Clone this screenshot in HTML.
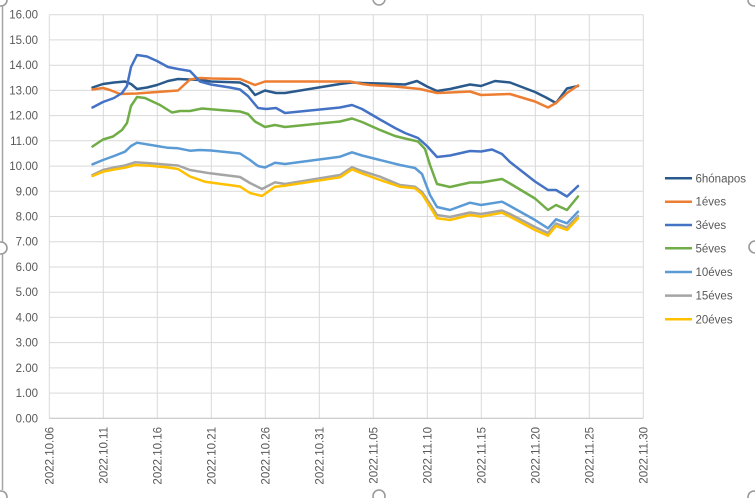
<!DOCTYPE html>
<html><head><meta charset="utf-8"><style>
html,body{margin:0;padding:0;background:#fff;}
svg{display:block;}
text{font-family:"Liberation Sans",Arial,sans-serif;font-size:11.5px;fill:#595959;}
</style></head><body>
<svg width="755" height="498" viewBox="0 0 755 498" xmlns="http://www.w3.org/2000/svg">
<rect width="755" height="498" fill="#fff"/>
<!-- border -->
<line x1="2.5" y1="6" x2="2.5" y2="490" stroke="#a6a6a6" stroke-width="1.5"/>
<!-- horizontal grid -->
<g stroke="#d9d9d9" stroke-width="1">
<line x1="49.3" x2="643.3" y1="393.1" y2="393.1"/>
<line x1="49.3" x2="643.3" y1="367.9" y2="367.9"/>
<line x1="49.3" x2="643.3" y1="342.6" y2="342.6"/>
<line x1="49.3" x2="643.3" y1="317.4" y2="317.4"/>
<line x1="49.3" x2="643.3" y1="292.2" y2="292.2"/>
<line x1="49.3" x2="643.3" y1="267.0" y2="267.0"/>
<line x1="49.3" x2="643.3" y1="241.7" y2="241.7"/>
<line x1="49.3" x2="643.3" y1="216.5" y2="216.5"/>
<line x1="49.3" x2="643.3" y1="191.3" y2="191.3"/>
<line x1="49.3" x2="643.3" y1="166.1" y2="166.1"/>
<line x1="49.3" x2="643.3" y1="140.8" y2="140.8"/>
<line x1="49.3" x2="643.3" y1="115.6" y2="115.6"/>
<line x1="49.3" x2="643.3" y1="90.4" y2="90.4"/>
<line x1="49.3" x2="643.3" y1="65.2" y2="65.2"/>
<line x1="49.3" x2="643.3" y1="39.9" y2="39.9"/>
<line x1="49.3" x2="643.3" y1="14.7" y2="14.7"/>
<line x1="49.3" x2="49.3" y1="14.7" y2="418.3"/>
<line x1="103.3" x2="103.3" y1="14.7" y2="418.3"/>
<line x1="157.3" x2="157.3" y1="14.7" y2="418.3"/>
<line x1="211.3" x2="211.3" y1="14.7" y2="418.3"/>
<line x1="265.3" x2="265.3" y1="14.7" y2="418.3"/>
<line x1="319.3" x2="319.3" y1="14.7" y2="418.3"/>
<line x1="373.3" x2="373.3" y1="14.7" y2="418.3"/>
<line x1="427.3" x2="427.3" y1="14.7" y2="418.3"/>
<line x1="481.3" x2="481.3" y1="14.7" y2="418.3"/>
<line x1="535.3" x2="535.3" y1="14.7" y2="418.3"/>
<line x1="589.3" x2="589.3" y1="14.7" y2="418.3"/>
<line x1="643.3" x2="643.3" y1="14.7" y2="418.3"/>
</g>
<line x1="49.3" x2="643.3" y1="418.3" y2="418.3" stroke="#bfbfbf" stroke-width="1"/>
<!-- y labels -->
<g text-anchor="end">
<text x="38" y="422.3">0.00</text>
<text x="38" y="397.1">1.00</text>
<text x="38" y="371.9">2.00</text>
<text x="38" y="346.6">3.00</text>
<text x="38" y="321.4">4.00</text>
<text x="38" y="296.2">5.00</text>
<text x="38" y="271.0">6.00</text>
<text x="38" y="245.7">7.00</text>
<text x="38" y="220.5">8.00</text>
<text x="38" y="195.3">9.00</text>
<text x="38" y="170.1">10.00</text>
<text x="38" y="144.8">11.00</text>
<text x="38" y="119.6">12.00</text>
<text x="38" y="94.4">13.00</text>
<text x="38" y="69.2">14.00</text>
<text x="38" y="43.9">15.00</text>
<text x="38" y="18.7">16.00</text>
</g>
<!-- x labels -->
<g text-anchor="end">
<text transform="translate(53.5,427) rotate(-90)">2022.10.06</text>
<text transform="translate(107.5,427) rotate(-90)">2022.10.11</text>
<text transform="translate(161.5,427) rotate(-90)">2022.10.16</text>
<text transform="translate(215.5,427) rotate(-90)">2022.10.21</text>
<text transform="translate(269.5,427) rotate(-90)">2022.10.26</text>
<text transform="translate(323.5,427) rotate(-90)">2022.10.31</text>
<text transform="translate(377.5,427) rotate(-90)">2022.11.05</text>
<text transform="translate(431.5,427) rotate(-90)">2022.11.10</text>
<text transform="translate(485.5,427) rotate(-90)">2022.11.15</text>
<text transform="translate(539.5,427) rotate(-90)">2022.11.20</text>
<text transform="translate(593.5,427) rotate(-90)">2022.11.25</text>
<text transform="translate(647.5,427) rotate(-90)">2022.11.30</text>
</g>
<!-- series -->
<g fill="none" stroke-width="2.5" stroke-linejoin="round" stroke-linecap="round">
<polyline stroke="#2a5a8c" points="92.5,87.5 103,84 114,82.5 125,81.5 131,84 137,89 147,87.5 157,85 168,81 178,79 190,79.5 200,80 211,81.5 240,82.5 248,86.5 255,95 265,90.5 276,93 285,93 340,84 352,82.5 362,83 380,83.5 405,84.5 417,81 427,86.5 437,91 450,89 470,84.5 481,86 495,81 510,82.5 535,92 546,97.5 556,103 567,88.5 578,86"/>
<polyline stroke="#ed7d31" points="92.5,89.5 103,88 110,90 120,94 137,93.5 157,92 178,90.5 184,85 190,79.5 200,78 211,78.5 240,79 255,85 265,81.5 285,81.5 350,81.5 362,84 370,85 395,86.5 405,87.5 420,89 437,93 450,92.5 470,91.5 481,95 510,94 535,101.5 548,107.5 556,103 567,93 578,85.5"/>
<polyline stroke="#4472c4" points="92.5,107.5 103,102 114,98 122,93 127,86 131,67 137,55 147,56.5 157,61 168,67 178,69 190,71 200,81.5 211,84.5 230,87.5 240,89.5 248,96 258,108 266,109 276,108 285,113 340,107.5 352,105 362,109 380,119.5 395,128 405,133 418,138 427,146 437,157 450,155.5 470,151 481,151.5 492,149.5 502,154 510,162 535,181.5 548,190 556,190 567,196.5 578,186"/>
<polyline stroke="#70ad47" points="92.5,146.5 103,139.5 113,136.5 122,130 127,123 131,106 137,97 145,98 160,105 172,112.5 180,111 190,111 202,108.5 220,110 240,111.5 248,114 255,121.5 265,127 275,125 285,127 340,121.5 352,118.5 362,122 380,130 395,136 405,138.5 418,141.5 425,149 430,165 437,184 450,187 470,182.5 481,182.5 502,179 510,183.5 535,198.5 548,210 556,205 567,210 578,196.5"/>
<polyline stroke="#5b9bd5" points="92.5,164.3 103,160 114,156 125,151.7 131,146 137,142.7 157,146 168,147.8 178,148.3 190,150.7 200,150 211,150.5 240,153.5 250,160 258,166 265,167.5 275,162.7 285,164 340,156.7 352,152.3 362,155.5 380,160 400,165 415,168 422,174 430,195 437,207 450,210 470,202.7 481,205 502,201.7 510,206 535,220 548,228.3 556,219.3 567,223.3 578,211.7"/>
<polyline stroke="#a5a5a5" points="92.5,175 103,170 114,167.5 125,165.5 135,162.3 150,163.3 168,164.7 178,165.5 190,170 210,173.3 240,177 250,183 262,189 275,182.3 285,184 340,175 352,167.3 362,171 380,176.7 400,185 415,186.7 422,192 430,204 437,215 450,217 470,212.5 481,214 502,210.5 510,214 535,227 548,233 556,223.5 567,227.5 578,216"/>
<polyline stroke="#ffc000" points="92.5,176 103,171.7 114,169.5 125,167.7 135,165 150,165.7 168,167.5 178,169 190,176.5 205,181.7 240,186.5 250,193 262,196 275,186.7 285,185.7 340,177.3 352,169.3 362,173.5 380,180 400,186.7 415,188.3 422,194 430,206.7 437,218.3 450,220 470,215 481,216.7 502,212.7 510,216.7 535,230 548,235.7 556,226 567,230 578,218.3"/>
</g>
<!-- legend -->
<g stroke-width="2.5">
<line x1="665" x2="692" y1="178.3" y2="178.3" stroke="#2a5a8c"/>
<line x1="665" x2="692" y1="201.7" y2="201.7" stroke="#ed7d31"/>
<line x1="665" x2="692" y1="225" y2="225" stroke="#4472c4"/>
<line x1="665" x2="692" y1="248.3" y2="248.3" stroke="#70ad47"/>
<line x1="665" x2="692" y1="272" y2="272" stroke="#5b9bd5"/>
<line x1="665" x2="692" y1="295.6" y2="295.6" stroke="#a5a5a5"/>
<line x1="665" x2="692" y1="319.3" y2="319.3" stroke="#ffc000"/>
</g>
<g>
<text x="695.5" y="182.3">6hónapos</text>
<text x="695.5" y="205.7">1éves</text>
<text x="695.5" y="229">3éves</text>
<text x="695.5" y="252.3">5éves</text>
<text x="695.5" y="276">10éves</text>
<text x="695.5" y="299.6">15éves</text>
<text x="695.5" y="323.3">20éves</text>
</g>
<!-- selection handles -->
<g fill="#fff" stroke="#9a9a9a" stroke-width="1.6">
<circle cx="1" cy="0" r="6"/>
<circle cx="379" cy="-1" r="6"/>
<circle cx="754" cy="0" r="6"/>
<circle cx="1" cy="248" r="6"/>
<circle cx="755" cy="247" r="6"/>
<circle cx="1" cy="497" r="6"/>
<circle cx="379" cy="496" r="6"/>
<circle cx="754" cy="497" r="6"/>
</g>
</svg>
</body></html>
